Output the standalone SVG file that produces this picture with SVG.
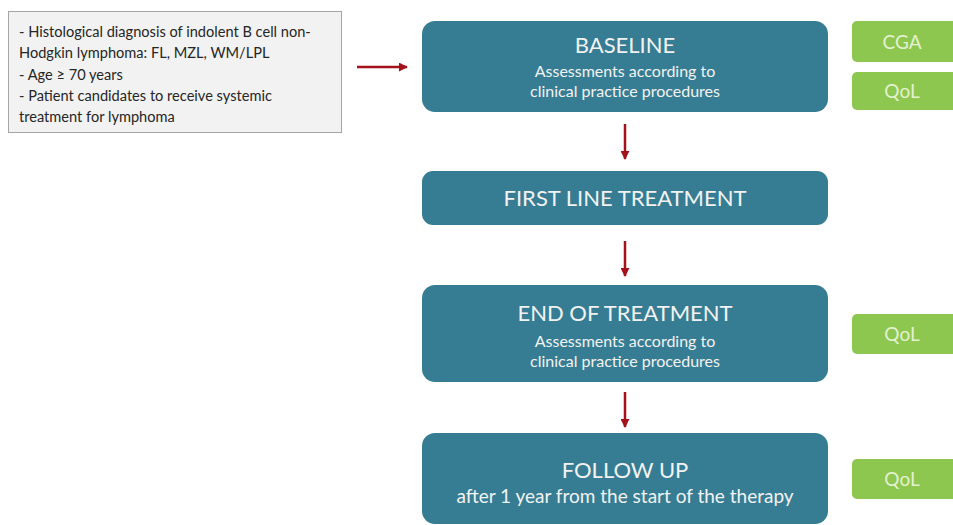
<svg xmlns="http://www.w3.org/2000/svg" width="953" height="525" viewBox="0 0 953 525">
<style>
.step{fill:#367D93}
.tag{fill:#8DC74F}
.crit{fill:#F2F2F2;stroke:#A6A6A6;stroke-width:1}
.ct{font-family:Lato,"Liberation Sans",sans-serif;font-size:14.6px;fill:#262626}
.tt{font-family:Lato,"Liberation Sans",sans-serif;font-size:22px;fill:#F2F2F2;text-anchor:middle}
.st{font-family:Lato,"Liberation Sans",sans-serif;font-size:16px;fill:#F2F2F2;text-anchor:middle}
.st2{font-family:Lato,"Liberation Sans",sans-serif;font-size:19px;fill:#F2F2F2;text-anchor:middle}
.gt{font-family:Lato,"Liberation Sans",sans-serif;font-size:19px;fill:#E4F1CF;text-anchor:middle}
.arr{stroke:#A3121B;stroke-width:2.5;fill:none}
</style>
<defs>
<marker id="ah" viewBox="0 0 10 10" refX="9" refY="5" markerWidth="3.6" markerHeight="3.6" orient="auto">
<path d="M0,0 L10,5 L0,10 z" fill="#A3121B"/>
</marker>
</defs>
<rect width="953" height="525" fill="#FFFFFF"/>
<g id="criteria">
<rect class="crit" x="8.5" y="11.5" width="333" height="121"/>
<text class="ct" x="19" y="37">- Histological diagnosis of indolent B cell non-</text>
<text class="ct" x="19" y="58">Hodgkin lymphoma: FL, MZL, WM/LPL</text>
<text class="ct" x="19" y="80">- Age ≥ 70  years</text>
<text class="ct" x="19" y="101">- Patient candidates to receive systemic</text>
<text class="ct" x="19" y="122">treatment for lymphoma</text>
</g>
<g id="baseline">
<rect class="step" x="422" y="21" width="406" height="91" rx="13"/>
<text class="tt" x="625" y="53">BASELINE</text>
<text class="st" x="625" y="77">Assessments according to</text>
<text class="st" x="625" y="97">clinical practice procedures</text>
</g>
<g id="first-line">
<rect class="step" x="422" y="171" width="406" height="54" rx="11"/>
<text class="tt" x="625" y="206">FIRST LINE TREATMENT</text>
</g>
<g id="end-of-treatment">
<rect class="step" x="422" y="285" width="406" height="97" rx="13"/>
<text class="tt" x="625" y="321">END OF TREATMENT</text>
<text class="st" x="625" y="347">Assessments according to</text>
<text class="st" x="625" y="367">clinical practice procedures</text>
</g>
<g id="follow-up">
<rect class="step" x="422" y="433" width="406" height="91" rx="13"/>
<text class="tt" x="625" y="478">FOLLOW UP</text>
<text class="st2" x="625" y="503">after 1 year from the start of the therapy</text>
</g>
<g id="cga">
<rect class="tag" x="852" y="21" width="110" height="41" rx="5"/>
<text class="gt" x="902" y="49">CGA</text>
</g>
<g id="qol-baseline">
<rect class="tag" x="852" y="72" width="110" height="38" rx="5"/>
<text class="gt" x="902" y="98">QoL</text>
</g>
<g id="qol-end">
<rect class="tag" x="852" y="314" width="110" height="40" rx="5"/>
<text class="gt" x="902" y="341">QoL</text>
</g>
<g id="qol-follow">
<rect class="tag" x="852" y="459" width="110" height="40" rx="5"/>
<text class="gt" x="902" y="486">QoL</text>
</g>
<g id="connectors">
<line class="arr" x1="357" y1="67" x2="407" y2="67" marker-end="url(#ah)"/>
<line class="arr" x1="625" y1="124" x2="625" y2="159" marker-end="url(#ah)"/>
<line class="arr" x1="625" y1="241" x2="625" y2="276" marker-end="url(#ah)"/>
<line class="arr" x1="625" y1="392" x2="625" y2="427" marker-end="url(#ah)"/>
</g>
</svg>
